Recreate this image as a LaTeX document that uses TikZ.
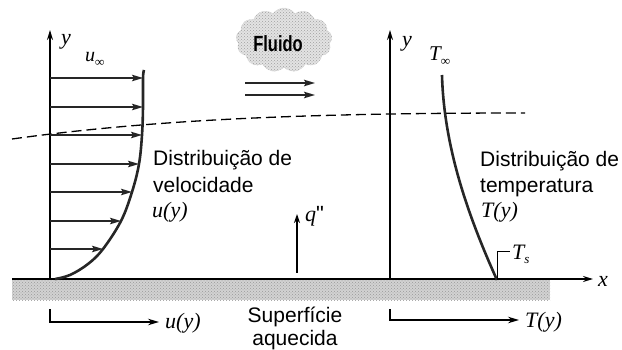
\documentclass[tikz,border=0pt]{standalone}
\usepackage{fontspec}
\usepackage{graphicx}
\setmainfont{Liberation Sans}
\newfontfamily\serifit{Liberation Serif}
\newcommand{\mi}[1]{{\serifit\itshape #1}}
\newcommand{\lowsub}[1]{\raisebox{-5pt}{\fontsize{13}{13}\selectfont #1}}
\usetikzlibrary{arrows.meta,shapes.symbols,patterns}
\begin{document}
\begin{tikzpicture}[x=1pt,y=-1pt,
  txt/.style={inner sep=0pt,anchor=base west,font=\fontsize{21}{24}\selectfont},
  mth/.style={inner sep=0pt,anchor=base west,font=\fontsize{22}{24}\selectfont},
  axisline/.style={line width=1.5pt,-{Stealth[length=10pt,width=6pt]}},
  profarrow/.style={line width=1.4pt,-{Stealth[length=11pt,width=6.5pt,inset=2pt]},black!85},
  curve/.style={line width=2.6pt,black!85},
  bnd/.style={line width=1.3pt,dash pattern=on 10pt off 5pt}
]
\useasboundingbox (0,0) rectangle (622,350);

% plate
\path[preaction={fill=gray!35},pattern=crosshatch dots,pattern color=gray!80]
  (12,280) rectangle (550,300);

% cloud
\node[cloud,cloud puffs=13,cloud puff arc=110,aspect=1.5,minimum width=96pt,minimum height=64pt,
  preaction={fill=gray!22},pattern=crosshatch dots,pattern color=gray!75,
  draw=gray!60,densely dotted,inner sep=0pt] (cloud) at (284,40) {};
\node[inner sep=0pt,font=\bfseries\fontsize{22}{22}\selectfont] (fluido) at (278,44) {\scalebox{0.75}[1]{Fluido}};
\coordinate (fa1) at (245,83); \coordinate (fb1) at (315,83);
\coordinate (fa2) at (245,95); \coordinate (fb2) at (315,95);
\draw[profarrow,line width=1.8pt] (fa1) -- (fb1);
\draw[profarrow,line width=1.8pt] (fa2) -- (fb2);

% coordinates
\coordinate (o1) at (50,279);
\coordinate (o1top) at (50,30);
\coordinate (o2) at (390,279);
\coordinate (o2top) at (390,30);
\coordinate (xl) at (12,279);
\coordinate (xr) at (593,279);

% axes
\draw[axisline] (o1) -- (o1top);
\draw[axisline] (o2) -- (o2top);
\draw[axisline] (xl) -- (xr);
\node[mth,anchor=center] (ylab1) at (66,42) {\mi{y}};
\node[mth,anchor=center] (ylab2) at (407,44) {\mi{y}};
\node[mth,anchor=center] (xlab) at (603,281) {\mi{x}};

% boundary layer edge
\coordinate (d0) at (12,139);
\coordinate (d3) at (525,113);
\draw[bnd] (d0) .. controls (150,120) and (300,113) .. (d3);

% velocity profile
\coordinate (v0) at (55,279);
\coordinate (v1) at (143,78);
\coordinate (v2) at (143,107);
\coordinate (v3) at (142,135);
\coordinate (v4) at (139,164);
\coordinate (v5) at (132,192);
\coordinate (v6) at (121,221);
\coordinate (v7) at (103,249);
\coordinate (vtop) at (144,70);
\draw[curve] plot[smooth,tension=0.6] coordinates {(v0) (70,275) (88,264) (v7) (v6) (v5) (v4) (v3) (v2) (v1) (vtop)};
\foreach \i/\yy in {1/78,2/107,3/135,4/164,5/192,6/221,7/249}{
  \coordinate (s\i) at (50,\yy);
  \draw[profarrow] (s\i) -- (v\i);
}
\node[mth,font=\fontsize{20}{22}\selectfont] (uinf) at (85,62) {\mi{u}\lowsub{\mi{∞}}};

% temperature profile
\coordinate (t0) at (442,75);
\coordinate (ts) at (497,280);
\draw[curve] (t0) .. controls (444,150) and (470,220) .. (ts);
\node[mth,font=\fontsize{21}{22}\selectfont] (tinf) at (429,61) {\mi{T}\lowsub{\mi{∞}}};
\coordinate (tsk) at (497,252);
\coordinate (tsr) at (510,252);
\draw[line width=1pt] (ts) -- (tsk) -- (tsr);
\node[mth] (tslab) at (512,259) {\mi{T}\lowsub{\mi{s}}};

% texts
\node[txt] (dv1) at (153,166) {Distribuição de};
\node[txt] (dv2) at (153,193) {velocidade};
\node[mth] (dv3) at (152,218) {\mi{u(y)}};
\node[txt] (dt1) at (480,167) {Distribuição de};
\node[txt] (dt2) at (480,193) {temperatura};
\node[mth] (dt3) at (481,218) {\mi{T(y)}};

% heat flux
\coordinate (q0) at (297,273);
\coordinate (q1) at (297,214);
\draw[line width=1.3pt,-{Stealth[length=9pt,width=6pt]}] (q0) -- (q1);
\node[mth] (qlab) at (305,222) {\mi{q}\textquotedbl};

% surface label
\node[txt,anchor=base] (sup1) at (295,323) {Superfície};
\node[txt,anchor=base] (sup2) at (295,345) {aquecida};

% bottom arrows
\coordinate (b1a) at (50,309); \coordinate (b1b) at (50,322); \coordinate (b1c) at (159,322);
\draw[line width=1.4pt,-{Stealth[length=11pt,width=6.5pt]}] (b1a) -- (b1b) -- (b1c);
\node[mth] (bu) at (165,328) {\mi{u(y)}};
\coordinate (b2a) at (390,309); \coordinate (b2b) at (390,320); \coordinate (b2c) at (519,320);
\draw[line width=1.4pt,-{Stealth[length=11pt,width=6.5pt]}] (b2a) -- (b2b) -- (b2c);
\node[mth] (bt) at (525,327) {\mi{T(y)}};
\end{tikzpicture}
\end{document}
